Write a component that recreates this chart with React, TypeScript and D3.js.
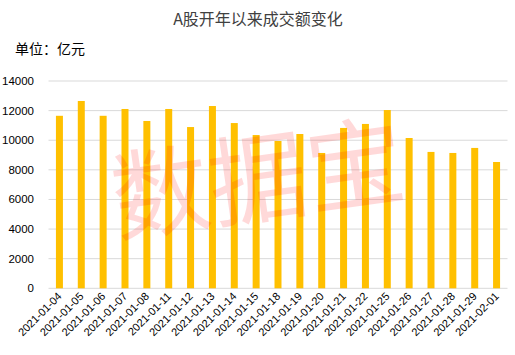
import React from "react";
import * as d3 from "d3";

const categories = [
  "2021-01-04","2021-01-05","2021-01-06","2021-01-07","2021-01-08",
  "2021-01-11","2021-01-12","2021-01-13","2021-01-14","2021-01-15",
  "2021-01-18","2021-01-19","2021-01-20","2021-01-21","2021-01-22",
  "2021-01-25","2021-01-26","2021-01-27","2021-01-28","2021-01-29",
  "2021-02-01",
];
const turnover = [
  11650, 12650, 11650, 12110, 11300,
  12110, 10890, 12310, 11160, 10350,
  9950, 10420, 9140, 10830, 11100,
  12040, 10150, 9210, 9140, 9480,
  8530,
];
const yTicks = [0, 2000, 4000, 6000, 8000, 10000, 12000, 14000];
const title = "A股开年以来成交额变化";
const unitLabel = "单位：亿元";
const watermark = "数据宝";

const W = 515, H = 355;
const left = 48.5, right = 507.5, top = 81, bottom = 288.3;

export default function App() {
  const x = d3.scaleBand<string>().domain(categories).range([left, right]).paddingInner(0.68).paddingOuter(0.34);
  const y = d3.scaleLinear().domain([0, 14000]).range([bottom, top]);
  const font = "'Liberation Sans', 'Noto Sans CJK SC', sans-serif";
  return (
    <svg width={W} height={H} style={{ position: "absolute", left: 0, top: 0, background: "#fff" }} fontFamily={font}>
      <rect width={W} height={H} fill="#fff" />
      <text x={258} y={25} textAnchor="middle" fontSize={16} fill="#404040" fontFamily="'Noto Sans CJK SC', sans-serif">{title}</text>
      <text x={15} y={54} fontSize={14} fill="#000" fontFamily="'Noto Sans CJK SC', sans-serif">{unitLabel}</text>
      {yTicks.map((t) => (
        <g key={t}>
          <line x1={left} x2={right} y1={y(t)} y2={y(t)} stroke="#d9d9d9" strokeWidth={1} />
          <text x={34} y={y(t)} dy="0.35em" textAnchor="end" fontSize={11.5} fill="#000">{t}</text>
        </g>
      ))}
      {categories.map((c, i) => (
        <rect key={c} x={x(c)} y={y(turnover[i])} width={x.bandwidth()} height={bottom - y(turnover[i])} fill="#FFC000" />
      ))}
      {categories.map((c) => {
        const cx = (x(c) as number) + x.bandwidth() / 2 + 3;
        const cy = 297;
        return (
          <text key={c} x={cx} y={cy} textAnchor="end" fontSize={11} fill="#000" transform={`rotate(-45 ${cx} ${cy})`}>{c}</text>
        );
      })}
      <text x={258} y={215} textAnchor="middle" fontSize={98} fill="rgba(255,0,0,0.15)" fontFamily="'Noto Sans CJK SC', sans-serif" transform="rotate(-8 258 180)">{watermark}</text>
    </svg>
  );
}
